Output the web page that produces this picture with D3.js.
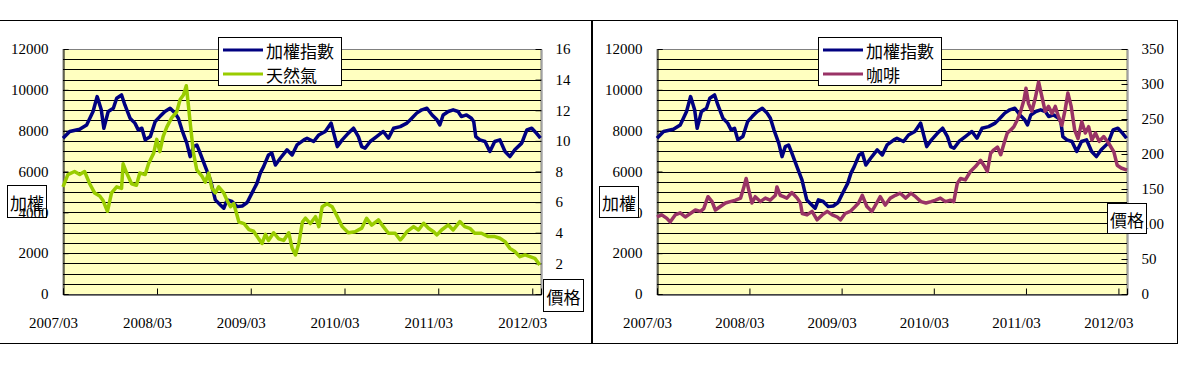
<!DOCTYPE html>
<html>
<head>
<meta charset="utf-8">
<script src="https://cdn.jsdelivr.net/npm/d3@7"></script>
<style>
    body { margin: 0; background: #fff; }
    svg { display: block; font-family: 'Liberation Serif', 'Times New Roman', serif; }
    .cjk { font-family: 'Noto Sans CJK TC', sans-serif; }
</style>
</head>
<body>
<div id="graph"></div>
<script>
// TAIEX (加權指數)
const taiex = [
    ['2007-03-01', 7630], ['2007-03-27', 7960], ['2007-05-05', 8070], ['2007-06-01', 8280],
    ['2007-06-26', 8940], ['2007-07-12', 9670], ['2007-07-28', 9020], ['2007-08-07', 8120],
    ['2007-08-24', 8940], ['2007-09-13', 9100], ['2007-09-26', 9590], ['2007-10-15', 9750],
    ['2007-10-28', 9260], ['2007-11-17', 8610], ['2007-12-06', 8370], ['2007-12-19', 8040],
    ['2008-01-02', 8120], ['2008-01-15', 7550], ['2008-02-04', 7710], ['2008-02-23', 8450],
    ['2008-03-12', 8690], ['2008-04-01', 8940], ['2008-04-21', 9100], ['2008-05-10', 8860],
    ['2008-05-23', 8610], ['2008-06-06', 8040], ['2008-06-25', 7390], ['2008-07-08', 6730],
    ['2008-07-21', 7220], ['2008-08-03', 7300], ['2008-08-16', 6900], ['2008-09-05', 6240],
    ['2008-09-25', 5590], ['2008-10-14', 4610], ['2008-11-03', 4360], ['2008-11-16', 4200],
    ['2008-11-29', 4610], ['2008-12-18', 4530], ['2009-01-07', 4280], ['2009-01-27', 4310],
    ['2009-02-15', 4480], ['2009-03-05', 4930], ['2009-03-25', 5420], ['2009-04-07', 5920],
    ['2009-04-20', 6240], ['2009-05-09', 6810], ['2009-05-22', 6900], ['2009-06-05', 6320],
    ['2009-06-24', 6650], ['2009-07-20', 7060], ['2009-08-09', 6810], ['2009-08-28', 7300],
    ['2009-09-24', 7550], ['2009-10-06', 7630], ['2009-11-01', 7470], ['2009-11-21', 7790],
    ['2009-12-16', 7960], ['2010-01-08', 8370], ['2010-01-18', 7880], ['2010-02-01', 7220],
    ['2010-02-20', 7550], ['2010-03-16', 7880], ['2010-04-05', 8120], ['2010-04-24', 7710],
    ['2010-05-07', 7220], ['2010-05-20', 7140], ['2010-06-09', 7470], ['2010-07-04', 7710],
    ['2010-07-30', 7960], ['2010-08-19', 7630], ['2010-09-08', 8120], ['2010-10-04', 8200],
    ['2010-10-30', 8370], ['2010-11-18', 8610], ['2010-12-07', 8860], ['2010-12-27', 9020],
    ['2011-01-16', 9100], ['2011-02-05', 8770], ['2011-02-24', 8530], ['2011-03-07', 8280],
    ['2011-03-20', 8770], ['2011-04-09', 8940], ['2011-04-28', 9020], ['2011-05-17', 8940],
    ['2011-05-30', 8690], ['2011-06-19', 8770], ['2011-07-08', 8610], ['2011-07-17', 8450],
    ['2011-07-25', 7710], ['2011-08-10', 7550], ['2011-08-30', 7470], ['2011-09-18', 6980],
    ['2011-10-07', 7470], ['2011-10-27', 7550], ['2011-11-16', 6980], ['2011-12-05', 6730],
    ['2011-12-24', 7060], ['2012-01-20', 7390], ['2012-02-09', 8040], ['2012-02-28', 8120],
    ['2012-03-17', 7880], ['2012-04-02', 7630]
];

// natural gas (天然氣) price
const gas = [
    ['2007-03-01', 7.0], ['2007-03-20', 7.8], ['2007-04-15', 8.0], ['2007-05-05', 7.8],
    ['2007-05-24', 8.0], ['2007-06-13', 7.2], ['2007-07-02', 6.6], ['2007-07-22', 6.4],
    ['2007-08-04', 6.1], ['2007-08-21', 5.4], ['2007-09-06', 6.6], ['2007-09-26', 7.0],
    ['2007-10-15', 6.9], ['2007-10-21', 8.5], ['2007-11-04', 7.9], ['2007-11-23', 7.2],
    ['2007-12-12', 7.1], ['2007-12-25', 7.9], ['2008-01-15', 7.8], ['2008-01-28', 8.5],
    ['2008-02-17', 9.2], ['2008-02-29', 10.1], ['2008-03-12', 9.3], ['2008-03-25', 10.3],
    ['2008-04-08', 10.9], ['2008-04-27', 11.5], ['2008-05-17', 11.9], ['2008-05-30', 12.7],
    ['2008-06-12', 13.0], ['2008-06-23', 13.6], ['2008-07-02', 12.2], ['2008-07-10', 10.9],
    ['2008-07-21', 9.2], ['2008-08-03', 8.1], ['2008-08-23', 7.7], ['2008-09-05', 7.3],
    ['2008-09-18', 7.9], ['2008-10-01', 6.9], ['2008-10-14', 6.6], ['2008-10-27', 7.0],
    ['2008-11-16', 6.6], ['2008-11-29', 6.1], ['2008-12-12', 5.7], ['2008-12-25', 5.9],
    ['2009-01-14', 4.7], ['2009-02-03', 4.6], ['2009-02-22', 4.2], ['2009-03-12', 4.1],
    ['2009-04-01', 3.6], ['2009-04-14', 3.3], ['2009-04-27', 3.9], ['2009-05-09', 3.5],
    ['2009-05-29', 4.0], ['2009-06-18', 3.6], ['2009-07-07', 3.5], ['2009-07-27', 4.0],
    ['2009-08-09', 3.0], ['2009-08-22', 2.55], ['2009-09-04', 3.3], ['2009-09-18', 4.7],
    ['2009-09-30', 4.95], ['2009-10-19', 4.6], ['2009-11-08', 5.05], ['2009-11-21', 4.4],
    ['2009-12-04', 5.7], ['2009-12-23', 5.9], ['2010-01-12', 5.7], ['2010-02-01', 5.05],
    ['2010-02-20', 4.4], ['2010-03-16', 4.0], ['2010-04-11', 4.07], ['2010-05-07', 4.3],
    ['2010-05-26', 4.95], ['2010-06-15', 4.5], ['2010-07-11', 4.84], ['2010-07-30', 4.4],
    ['2010-08-19', 3.97], ['2010-09-14', 3.97], ['2010-10-04', 3.53], ['2010-10-16', 3.75],
    ['2010-10-30', 4.07], ['2010-11-25', 4.4], ['2010-12-14', 4.18], ['2011-01-03', 4.62],
    ['2011-01-22', 4.29], ['2011-02-11', 4.07], ['2011-02-24', 3.86], ['2011-03-14', 4.18],
    ['2011-04-09', 4.51], ['2011-04-28', 4.18], ['2011-05-24', 4.73], ['2011-06-12', 4.4],
    ['2011-07-02', 4.29], ['2011-07-21', 3.97], ['2011-08-16', 3.97], ['2011-09-12', 3.75],
    ['2011-10-07', 3.75], ['2011-10-27', 3.64], ['2011-11-16', 3.42], ['2011-12-05', 2.98],
    ['2011-12-24', 2.77], ['2012-01-13', 2.44], ['2012-02-02', 2.55], ['2012-02-21', 2.44],
    ['2012-03-11', 2.33], ['2012-03-30', 1.9]
];

// coffee (咖啡) price
const coffee = [
    ['2007-03-01', 110], ['2007-03-20', 113], ['2007-04-09', 108], ['2007-04-22', 103],
    ['2007-05-12', 113], ['2007-06-01', 116], ['2007-06-21', 110], ['2007-07-11', 115],
    ['2007-07-31', 120], ['2007-08-20', 118], ['2007-09-02', 122], ['2007-09-19', 139],
    ['2007-10-05', 132], ['2007-10-18', 120], ['2007-11-07', 125], ['2007-11-27', 130],
    ['2007-12-16', 132], ['2008-01-06', 134], ['2008-01-26', 137], ['2008-02-08', 153],
    ['2008-02-17', 165], ['2008-02-27', 149], ['2008-03-11', 130], ['2008-03-24', 139],
    ['2008-04-13', 132], ['2008-05-03', 137], ['2008-05-22', 134], ['2008-06-12', 141],
    ['2008-06-18', 153], ['2008-07-01', 141], ['2008-07-14', 139], ['2008-07-27', 137],
    ['2008-08-16', 145], ['2008-09-06', 137], ['2008-09-19', 130], ['2008-09-26', 115],
    ['2008-10-15', 113], ['2008-11-04', 118], ['2008-11-24', 106], ['2008-12-14', 113],
    ['2009-01-03', 118], ['2009-01-23', 113], ['2009-02-12', 110], ['2009-02-25', 106],
    ['2009-03-15', 115], ['2009-04-04', 118], ['2009-04-24', 125], ['2009-05-07', 130],
    ['2009-05-22', 141], ['2009-06-09', 125], ['2009-06-29', 118], ['2009-07-18', 130],
    ['2009-08-01', 139], ['2009-08-21', 127], ['2009-09-10', 137], ['2009-09-30', 141],
    ['2009-10-19', 144], ['2009-11-10', 137], ['2009-11-30', 144], ['2009-12-19', 139],
    ['2010-01-09', 132], ['2010-01-29', 130], ['2010-02-18', 132], ['2010-03-08', 134],
    ['2010-03-27', 137], ['2010-04-16', 132], ['2010-05-06', 134], ['2010-05-19', 132],
    ['2010-06-02', 158], ['2010-06-15', 165], ['2010-07-04', 163], ['2010-07-24', 175],
    ['2010-08-13', 182], ['2010-09-02', 191], ['2010-09-15', 184], ['2010-09-29', 175],
    ['2010-10-12', 201], ['2010-10-25', 206], ['2010-11-08', 210], ['2010-11-21', 199],
    ['2010-12-04', 215], ['2010-12-17', 230], ['2010-12-30', 234], ['2011-01-12', 239],
    ['2011-01-26', 249], ['2011-02-08', 261], ['2011-02-21', 277], ['2011-03-01', 294],
    ['2011-03-11', 272], ['2011-03-24', 261], ['2011-04-07', 280], ['2011-04-20', 303],
    ['2011-05-03', 282], ['2011-05-16', 261], ['2011-05-29', 268], ['2011-06-12', 258],
    ['2011-06-25', 268], ['2011-07-08', 253], ['2011-07-21', 241], ['2011-08-03', 263],
    ['2011-08-14', 287], ['2011-08-27', 268], ['2011-09-10', 234], ['2011-09-23', 222],
    ['2011-10-08', 246], ['2011-10-22', 230], ['2011-11-04', 239], ['2011-11-17', 220],
    ['2011-12-01', 230], ['2011-12-16', 218], ['2012-01-03', 225], ['2012-01-23', 215],
    ['2012-02-12', 203], ['2012-02-25', 184], ['2012-03-12', 180], ['2012-04-04', 177]
];

const indexTicks = [0, 2000, 4000, 6000, 8000, 10000, 12000];
const gasTicks = [0, 2, 4, 6, 8, 10, 12, 14, 16];
const coffeeTicks = [0, 50, 100, 150, 200, 250, 300, 350];
const dateTicks = ['2007/03', '2008/03', '2009/03', '2010/03', '2011/03', '2012/03'];
const legendNames = ['加權指數', '天然氣', '咖啡'];

const width = 1180;
const height = 384;
const parseDay = d3.timeParse('%Y-%m-%d');
const parseTick = d3.timeParse('%Y/%m');
const fmtTick = d3.timeFormat('%Y/%m');
const crisp = v => Math.round(v) + 0.5;

const svg = d3.select('#graph')
    .append('svg')
    .attr('width', width)
    .attr('height', height);

function drawPanel(cfg) {
    const g = svg.append('g');
    const p = cfg.plot;

    // outer frame
    g.append('rect')
        .attr('x', cfg.frame[0]).attr('y', cfg.frame[1])
        .attr('width', cfg.frame[2]).attr('height', cfg.frame[3])
        .attr('fill', '#fff').attr('stroke', '#000');

    const x = d3.scaleTime()
        .domain([parseDay('2007-03-01'), parseDay('2012-04-04')])
        .range([p.left, p.right]);
    const y = d3.scaleLinear().domain([0, 12000]).range([p.bottom, p.top]);
    const y2 = d3.scaleLinear().domain(cfg.rightDomain).range([p.bottom, p.top]);

    g.append('rect')
        .attr('x', p.left).attr('y', crisp(p.top))
        .attr('width', p.right - p.left).attr('height', p.bottom - p.top)
        .attr('fill', '#FFFFC0').attr('stroke', '#808080');

    // gridlines every 500
    g.append('g')
        .selectAll('line')
        .data(d3.range(500, 12000, 500))
        .join('line')
        .attr('x1', p.left).attr('x2', p.right)
        .attr('y1', d => crisp(y(d))).attr('y2', d => crisp(y(d)))
        .attr('stroke', '#000');

    // left axis
    const ax = g.append('g')
        .attr('transform', `translate(${crisp(p.left)},0)`)
        .call(d3.axisLeft(y).tickValues(indexTicks).tickSize(-5).tickPadding(15).tickFormat(d3.format('d')));
    ax.select('.domain').attr('stroke', '#000');

    // right axis
    const ar = g.append('g')
        .attr('transform', `translate(${crisp(p.right)},0)`)
        .call(d3.axisRight(y2).tickValues(cfg.rightTicks).tickSize(-6).tickPadding(14));
    ar.select('.domain').attr('stroke', '#808080');

    // bottom axis
    const ab = g.append('g')
        .attr('transform', `translate(0,${crisp(p.bottom)})`)
        .call(d3.axisBottom(x).tickValues(dateTicks.map(parseTick)).tickSize(-6).tickPadding(23).tickFormat(fmtTick));
    ab.selectAll('text').attr('x', -10);

    [ax, ar, ab].forEach(a => {
        a.attr('font-family', "'Liberation Serif', 'Times New Roman', serif")
            .attr('font-size', 15);
        a.selectAll('text').attr('fill', '#000');
        a.selectAll('.tick line').attr('stroke', '#000');
    });
    ab.select('.domain').attr('stroke', '#000');

    const line = sc => d3.line()
        .x(d => x(parseDay(d[0])))
        .y(d => sc(d[1]));

    g.append('path')
        .datum(taiex)
        .attr('d', line(y))
        .attr('fill', 'none')
        .attr('stroke', '#000080')
        .attr('stroke-width', 3.5)
        .attr('stroke-linejoin', 'round');

    g.append('path')
        .datum(cfg.series)
        .attr('d', line(y2))
        .attr('fill', 'none')
        .attr('stroke', cfg.color)
        .attr('stroke-width', 3.5)
        .attr('stroke-linejoin', 'round');

    // legend
    const lg = g.append('g').attr('transform', `translate(${cfg.legend[0]},${cfg.legend[1]})`);
    lg.append('rect')
        .attr('x', 0.5).attr('y', 0.5).attr('width', 123).attr('height', 48)
        .attr('fill', '#fff').attr('stroke', '#000');
    const items = [{ name: legendNames[0], color: '#000080' }, { name: cfg.name, color: cfg.color }];
    const row = lg.selectAll('g.item')
        .data(items)
        .join('g')
        .attr('class', 'item')
        .attr('transform', (d, i) => `translate(0,${13 + i * 24})`);
    row.append('line')
        .attr('x1', 5).attr('x2', 45)
        .attr('stroke', d => d.color).attr('stroke-width', 3);
    row.append('text')
        .attr('class', 'cjk')
        .attr('x', 48)
        .attr('dominant-baseline', 'central')
        .style('font-size', '17px')
        .text(d => d.name);

    // axis titles
    [cfg.leftTitle, cfg.rightTitle].forEach(t => {
        g.append('rect')
            .attr('x', t.x + 0.5).attr('y', t.y + 0.5)
            .attr('width', t.w).attr('height', t.h)
            .attr('fill', t.fill).attr('stroke', '#000');
        g.append('text')
            .attr('class', 'cjk')
            .attr('x', t.x + t.w / 2 + 0.5).attr('y', t.y + t.h / 2 + 1)
            .attr('text-anchor', 'middle')
            .attr('dominant-baseline', 'central')
            .style('font-size', '17px')
            .text(t.text);
    });
}

drawPanel({
    frame: [-1.5, 20.5, 593, 323],
    plot: { left: 63, right: 541, top: 49, bottom: 294 },
    rightDomain: [0, 16],
    rightTicks: gasTicks,
    series: gas,
    name: legendNames[1],
    color: '#99CC00',
    legend: [218, 37],
    leftTitle: { x: 7, y: 185, w: 39, h: 32, text: '加權', fill: 'none' },
    rightTitle: { x: 543, y: 279, w: 40, h: 32, text: '價格', fill: '#fff' }
});

drawPanel({
    frame: [592.5, 20.5, 585, 323],
    plot: { left: 657, right: 1127, top: 49, bottom: 294 },
    rightDomain: [0, 350],
    rightTicks: coffeeTicks,
    series: coffee,
    name: legendNames[2],
    color: '#993366',
    legend: [818, 37],
    leftTitle: { x: 599, y: 186, w: 39, h: 31, text: '加權', fill: '#fff' },
    rightTitle: { x: 1107, y: 203, w: 39, h: 30, text: '價格', fill: '#fff' }
});
</script>
</body>
</html>
